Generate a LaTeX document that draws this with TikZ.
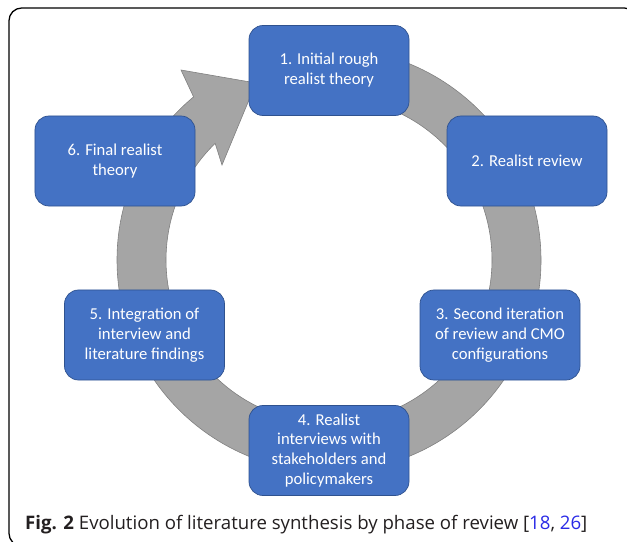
\documentclass[tikz,border=0pt]{standalone}
\usepackage{fontspec}
\setmainfont{Carlito}
\newfontfamily\capfont{Open Sans}
\usetikzlibrary{calc}
\definecolor{boxblue}{HTML}{4472C4}
\definecolor{boxedge}{HTML}{2F528F}
\definecolor{ringgray}{HTML}{A5A5A5}
\definecolor{ringedge}{HTML}{7F7F7F}
\definecolor{citeblue}{HTML}{2A2AE6}
\definecolor{captext}{HTML}{231F20}

\begin{document}
\begin{tikzpicture}[x=0.03cm, y=-0.03cm,
        phase/.style={shape=rectangle, rounded corners=0.42cm, draw=boxedge, line width=0.6pt,
            fill=boxblue, text=white, minimum width=4.8cm, minimum height=2.7cm, inner sep=0pt,
            align=center, font=\fontsize{14.2}{17}\selectfont}]

        \useasboundingbox (0,0) rectangle (627,542);
        \draw[line width=1.1pt, rounded corners=0.38cm] (9,8) rectangle (637,546);

        \coordinate (c) at (329,260);
        \filldraw[fill=ringgray, draw=ringedge, line width=0.5pt]
            ($(c)+(-95:212)$) arc[start angle=-95, end angle=230.3, radius=212]
            -- (181,70) -- (256,83) -- (222,165)
            -- ($(c)+(225.7:163)$) arc[start angle=225.7, end angle=-95, radius=163] -- cycle;

        \node[phase] (A) at (329,70.5) {1. Initial rough\\realist theory};
        \node[phase] (B) at (527,161) {2. Realist review};
        \node[phase] (C) at (500,335) {3. Second iteration\\of review and CMO\\configurations};
        \node[phase] (D) at (329,450.5) {4. Realist\\interviews with\\stakeholders and\\policymakers};
        \node[phase] (E) at (144.5,335) {5. Integration of\\interview and\\literature findings};
        \node[phase] (F) at (115,161) {6. Final realist\\theory};

        \node[anchor=base west, inner sep=0pt, text=captext, font=\capfont\fontsize{15.9}{19}\selectfont] (cap) at (25,529.5)
            {\textbf{Fig. 2} Evolution of literature synthesis by phase of review [\textcolor{citeblue}{18}, \textcolor{citeblue}{26}]};

    \end{tikzpicture}
\end{document}
